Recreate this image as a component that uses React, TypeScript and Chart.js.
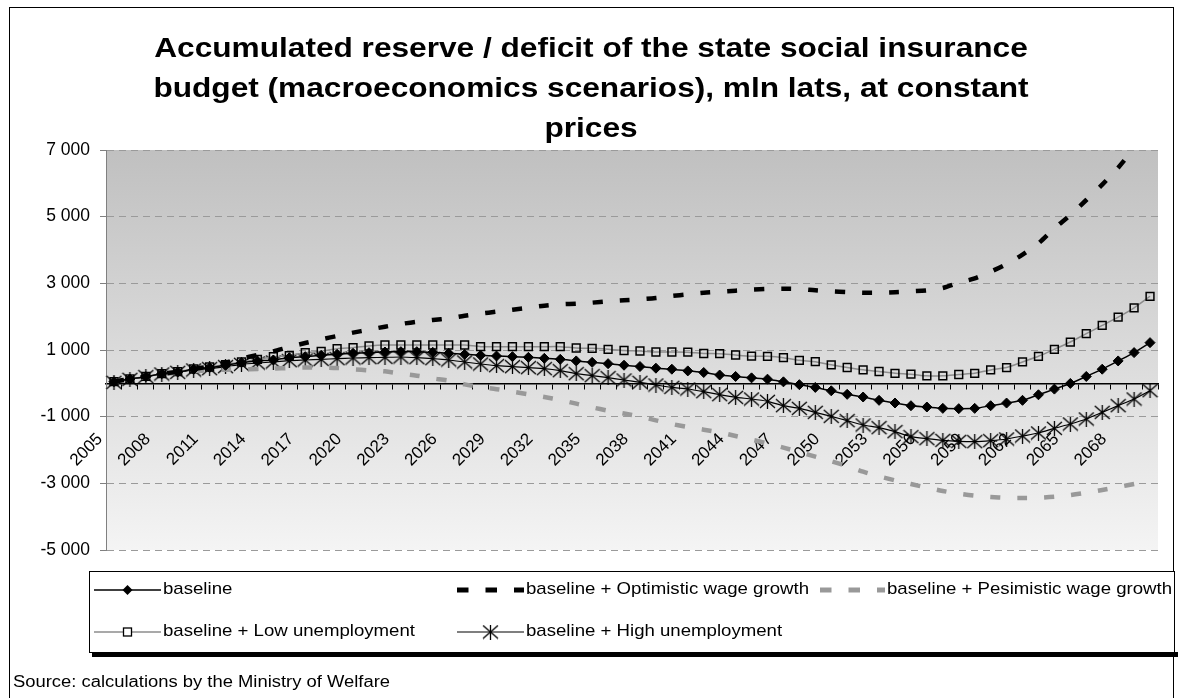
import React, { useEffect, useRef } from 'react';
import { Chart, registerables } from 'chart.js';

Chart.register(...registerables);

const YEARS = [
  '2005', '2006', '2007', '2008', '2009', '2010', '2011', '2012', '2013', '2014',
  '2015', '2016', '2017', '2018', '2019', '2020', '2021', '2022', '2023', '2024',
  '2025', '2026', '2027', '2028', '2029', '2030', '2031', '2032', '2033', '2034',
  '2035', '2036', '2037', '2038', '2039', '2040', '2041', '2042', '2043', '2044',
  '2045', '2046', '2047', '2048', '2049', '2050', '2051', '2052', '2053', '2054',
  '2055', '2056', '2057', '2058', '2059', '2060', '2061', '2062', '2063', '2064',
  '2065', '2066', '2067', '2068', '2069', '2070',
];

const X_TICK_LABELS = [
  '2005', '2008', '2011', '2014', '2017', '2020', '2023', '2026', '2029', '2032', '2035',
  '2038', '2041', '2044', '2047', '2050', '2053', '2056', '2059', '2062', '2065', '2068',
];

const Y_TICKS = [-5000, -3000, -1000, 1000, 3000, 5000, 7000];

const BASELINE = [
  50, 130, 200, 290, 340, 420, 470, 540, 620, 670,
  700, 770, 800, 840, 870, 900, 920, 940, 950, 950,
  930, 900, 870, 840, 820, 800, 780, 750, 720, 672,
  630, 590, 543, 504, 454, 424, 373, 325, 250, 206,
  164, 125, 45, -40, -122, -224, -330, -410, -510, -590,
  -672, -710, -751, -760, -751, -672, -591, -510, -343, -173,
  -3, 206, 424, 672, 922, 1221,
];

const OPTIMISTIC = [
  50, 130, 210, 290, 350, 430, 510, 620, 740, 850,
  960, 1090, 1210, 1320, 1420, 1520, 1610, 1700, 1780, 1850,
  1900, 1950, 2030, 2090, 2150, 2210, 2270, 2330, 2370, 2390,
  2420, 2460, 2490, 2520, 2560, 2620, 2670, 2720, 2750, 2780,
  2810, 2830, 2840, 2830, 2790, 2760, 2740, 2720, 2720, 2735,
  2760, 2790, 2860, 3020, 3150, 3350, 3580, 3860, 4200, 4650,
  5050, 5500, 5960, 6470, 7050, 7650,
];

const PESSIMISTIC = [
  50, 130, 200, 270, 320, 360, 390, 410, 420, 430,
  440, 460, 474, 474, 460, 420, 390, 360, 290, 230,
  150, 80, -30, -110, -175, -250, -330, -410, -500, -610,
  -720, -820, -905, -1000, -1110, -1220, -1310, -1390, -1470, -1580,
  -1690, -1800, -1930, -2060, -2200, -2340, -2480, -2650, -2790, -2910,
  -3020, -3130, -3230, -3310, -3370, -3410, -3435, -3440, -3430, -3400,
  -3350, -3280, -3200, -3110, -3020, -2930,
];

const LOW_UNEMPLOYMENT = [
  50, 130, 210, 290, 350, 430, 490, 560, 640, 720,
  800, 830, 920, 960, 1040, 1070, 1120, 1150, 1150, 1150,
  1150, 1150, 1150, 1100, 1100, 1100, 1100, 1100, 1100, 1060,
  1050, 1020, 985, 970, 940, 940, 935, 895, 890, 850,
  815, 810, 770, 690, 650, 555, 475, 405, 355, 300,
  275, 224, 224, 265, 300, 403, 474, 642, 812, 1021,
  1239, 1490, 1737, 1985, 2266, 2612,
];

const HIGH_UNEMPLOYMENT = [
  30, 120, 200, 280, 330, 400, 440, 500, 570, 610,
  640, 680, 700, 720, 740, 760, 770, 780, 790, 770,
  740, 700, 640, 580, 530, 500, 470, 440, 380, 290,
  230, 170, 100, 30, -50, -120, -170, -250, -340, -420,
  -470, -540, -670, -750, -870, -990, -1120, -1250, -1330, -1450,
  -1600, -1660, -1710, -1740, -1750, -1720, -1670, -1580, -1490, -1350,
  -1220, -1070, -870, -670, -470, -220,
];

const SERIES_LABELS = [
  'baseline',
  'baseline + Optimistic wage growth',
  'baseline + Pesimistic wage growth',
  'baseline + Low unemployment',
  'baseline + High unemployment',
];

const TITLE_LINES = [
  'Accumulated reserve / deficit of the state social insurance',
  'budget (macroeconomics scenarios), mln lats, at constant',
  'prices',
];

const SOURCE_TEXT = 'Source: calculations by the Ministry of Welfare';

const FONT = "'Liberation Sans', Arial, Helvetica, sans-serif";
const STRETCH = 1.15;

function formatThousands(v: number): string {
  const s = String(Math.abs(v)).replace(/\B(?=(\d{3})+(?!\d))/g, ' ');
  return v < 0 ? '-' + s : s;
}

function makeStarMarker(): HTMLCanvasElement {
  const c = document.createElement('canvas');
  c.width = 17;
  c.height = 15;
  const g = c.getContext('2d')!;
  g.strokeStyle = '#000';
  g.lineWidth = 1.3;
  g.beginPath();
  g.moveTo(1, 1);
  g.lineTo(16, 14);
  g.moveTo(16, 1);
  g.lineTo(1, 14);
  g.moveTo(8.5, 0);
  g.lineTo(8.5, 15);
  g.stroke();
  return c;
}

function stretchedText(ctx: CanvasRenderingContext2D, text: string, x: number, y: number, align: CanvasTextAlign) {
  ctx.save();
  ctx.translate(x, y);
  ctx.scale(STRETCH, 1);
  ctx.textAlign = align;
  ctx.fillText(text, 0, 0);
  ctx.restore();
}

const decorPlugin = {
  id: 'decor',
  beforeDraw(chart: any) {
    const { ctx, chartArea: a } = chart;
    ctx.save();
    ctx.fillStyle = '#ffffff';
    ctx.fillRect(0, 0, chart.width, chart.height);
    const g = ctx.createLinearGradient(0, a.top, 0, a.bottom);
    g.addColorStop(0, '#c0c0c0');
    g.addColorStop(1, '#f4f4f4');
    ctx.fillStyle = g;
    ctx.fillRect(a.left, a.top, a.right - a.left, a.bottom - a.top);
    ctx.restore();
  },
  afterDraw(chart: any) {
    const ctx: CanvasRenderingContext2D = chart.ctx;
    const ds = chart.data.datasets;
    const star = ds[4].pointStyle;
    ctx.save();
    // outer frame
    ctx.strokeStyle = '#000';
    ctx.lineWidth = 1;
    ctx.strokeRect(9.5, 7.5, 1164, 720);

    // title
    ctx.fillStyle = '#000';
    ctx.font = `bold 27.5px ${FONT}`;
    ctx.textBaseline = 'alphabetic';
    const titleY = [57, 97, 137];
    TITLE_LINES.forEach((t, i) => stretchedText(ctx, t, 591, titleY[i], 'center'));

    // legend box with shadow
    ctx.fillStyle = '#000';
    ctx.fillRect(92, 652, 1178 - 92, 5);
    ctx.fillStyle = '#fff';
    ctx.fillRect(89.5, 571.5, 1085, 81);
    ctx.strokeStyle = '#000';
    ctx.lineWidth = 1;
    ctx.strokeRect(89.5, 571.5, 1085, 81);

    const cols = [
      [94, 161, 163],
      [457, 524, 526],
      [820, 885, 887],
    ];
    const rows = [590, 632];
    const layout = [
      { ds: 0, col: 0, row: 0 },
      { ds: 1, col: 1, row: 0 },
      { ds: 2, col: 2, row: 0 },
      { ds: 3, col: 0, row: 1 },
      { ds: 4, col: 1, row: 1 },
    ];
    layout.forEach(({ ds: di, col, row }) => {
      const d = ds[di];
      const [x0, x1, tx] = cols[col];
      const y = rows[row];
      ctx.save();
      ctx.strokeStyle = d.borderColor;
      ctx.lineWidth = di === 1 || di === 2 ? 5 : d.borderWidth;
      ctx.setLineDash(di === 1 || di === 2 ? [11.5, 17] : []);
      ctx.beginPath();
      ctx.moveTo(x0, y);
      ctx.lineTo(x1, y);
      ctx.stroke();
      ctx.setLineDash([]);
      const mx = (x0 + x1) / 2;
      if (di === 0) {
        ctx.fillStyle = '#000';
        ctx.beginPath();
        ctx.moveTo(mx, y - 5);
        ctx.lineTo(mx + 5, y);
        ctx.lineTo(mx, y + 5);
        ctx.lineTo(mx - 5, y);
        ctx.closePath();
        ctx.fill();
      } else if (di === 3) {
        ctx.fillStyle = '#fff';
        ctx.fillRect(mx - 4, y - 4, 8, 8);
        ctx.strokeStyle = '#000';
        ctx.lineWidth = 1.3;
        ctx.strokeRect(mx - 4, y - 4, 8, 8);
      } else if (di === 4 && star) {
        ctx.drawImage(star, mx - star.width / 2, y - star.height / 2);
      }
      ctx.restore();
      ctx.fillStyle = '#000';
      ctx.font = `16.2px ${FONT}`;
      ctx.textBaseline = 'middle';
      stretchedText(ctx, SERIES_LABELS[di], tx, y, 'left');
    });

    // source
    ctx.fillStyle = '#000';
    ctx.font = `16px ${FONT}`;
    ctx.textBaseline = 'alphabetic';
    stretchedText(ctx, SOURCE_TEXT, 13, 687, 'left');
    ctx.restore();
  },
};

export default function App() {
  const ref = useRef<HTMLCanvasElement>(null);

  useEffect(() => {
    const star = makeStarMarker();
    const chart = new Chart(ref.current!, {
      type: 'line',
      data: {
        labels: YEARS,
        datasets: [
          {
            label: SERIES_LABELS[0],
            data: BASELINE,
            borderColor: '#000',
            borderWidth: 1.5,
            pointStyle: 'rectRot',
            pointRadius: 5,
            pointBackgroundColor: '#000',
            pointBorderColor: '#000',
            pointBorderWidth: 1,
            tension: 0.2,
          },
          {
            label: SERIES_LABELS[1],
            data: OPTIMISTIC,
            borderColor: '#000',
            borderWidth: 4.5,
            borderDash: [10, 17],
            pointRadius: 0,
            tension: 0.3,
          },
          {
            label: SERIES_LABELS[2],
            data: PESSIMISTIC,
            borderColor: '#999999',
            borderWidth: 4.5,
            borderDash: [10, 17],
            pointRadius: 0,
            tension: 0.3,
          },
          {
            label: SERIES_LABELS[3],
            data: LOW_UNEMPLOYMENT,
            borderColor: '#8c8c8c',
            borderWidth: 1.5,
            pointStyle: 'rect',
            pointRadius: 5.5,
            pointBackgroundColor: 'rgba(0,0,0,0)',
            pointBorderColor: '#000',
            pointBorderWidth: 1.5,
            tension: 0.2,
          },
          {
            label: SERIES_LABELS[4],
            data: HIGH_UNEMPLOYMENT,
            borderColor: '#000',
            borderWidth: 1.2,
            pointStyle: star as any,
            pointRadius: 7,
            tension: 0.2,
          },
        ],
      },
      options: {
        responsive: true,
        maintainAspectRatio: false,
        animation: false,
        events: [],
        layout: { padding: { left: 10, right: 20, top: 150, bottom: 148 } },
        plugins: {
          legend: { display: false },
          title: { display: false },
          tooltip: { enabled: false },
        },
        scales: {
          x: {
            type: 'category',
            position: { y: 0 } as any,
            offset: true,
            grid: {
              offset: true,
              drawOnChartArea: false,
              drawTicks: true,
              tickLength: 5,
              color: '#000',
              tickColor: '#000',
              lineWidth: 1,
            },
            border: { display: true, color: '#000', width: 1.5 },
            afterFit: (s: any) => {
              s.paddingLeft = 0;
              s.paddingRight = 0;
              s.paddingTop = 0;
              s.paddingBottom = 0;
            },
            ticks: {
              autoSkip: false,
              maxRotation: 45,
              minRotation: 45,
              padding: 41,
              labelOffset: -14,
              color: '#000',
              font: { family: FONT, size: 17 },
              callback: (_v: any, i: number) => (X_TICK_LABELS.includes(YEARS[i]) ? YEARS[i] : ''),
            },
          },
          y: {
            position: 'left',
            min: -5000,
            max: 7000,
            afterBuildTicks: (s: any) => {
              s.ticks = Y_TICKS.map((v) => ({ value: v }));
            },
            afterFit: (s: any) => {
              s.width = 96;
              s.paddingTop = 0;
              s.paddingBottom = 0;
            },
            grid: {
              color: '#9a9a9a',
              tickColor: '#808080',
              tickLength: 6,
              drawTicks: true,
              lineWidth: 1,
            },
            border: { display: true, color: '#808080', width: 1, dash: [7, 5] },
            ticks: {
              color: '#000',
              padding: 10,
              font: { family: FONT, size: 17.5 },
              callback: (v: any) => formatThousands(Number(v)),
            },
          },
        },
      },
      plugins: [decorPlugin],
    });
    return () => chart.destroy();
  }, []);

  return (
    <div style={{ position: 'fixed', left: 0, top: 0, width: 1178, height: 698, background: '#fff' }}>
      <canvas ref={ref} />
    </div>
  );
}
